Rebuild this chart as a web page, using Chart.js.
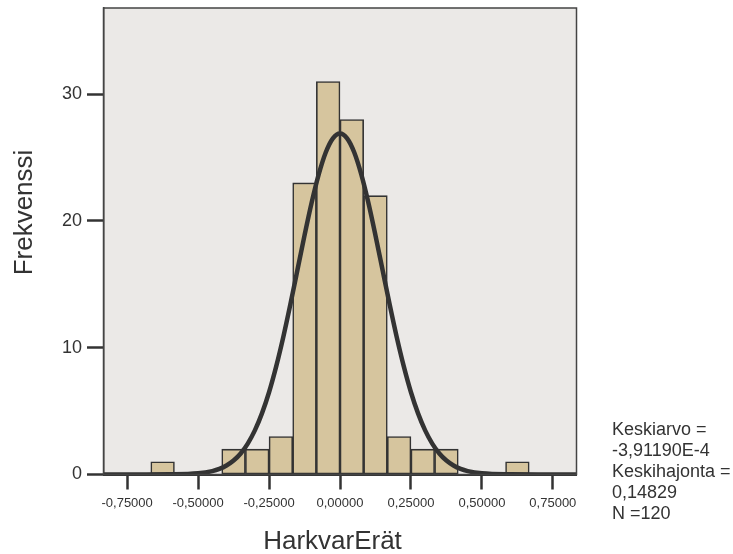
<!DOCTYPE html>
<html><head><meta charset="utf-8">
<script src="https://cdn.jsdelivr.net/npm/chart.js@4/dist/chart.umd.min.js"></script>
<style>html,body{margin:0;padding:0;background:#fff}#wrap{width:733px;height:554px;position:relative}</style>
</head><body><div id="wrap"><canvas id="c" width="733" height="554"></canvas></div>
<script>
const xTickValues = [-0.75, -0.5, -0.25, 0, 0.25, 0.5, 0.75];
const xTickLabels = ['-0,75000', '-0,50000', '-0,25000', '0,00000', '0,25000', '0,50000', '0,75000'];
const yTickValues = [0, 10, 20, 30];
const yTickLabels = ['0', '10', '20', '30'];
const binCenters = [-0.625, -0.375, -0.29167, -0.20833, -0.125, -0.041667, 0.041667, 0.125, 0.20833, 0.29167, 0.375, 0.625];
const binCounts = [1, 2, 2, 3, 23, 31, 28, 22, 3, 2, 2, 1];
const curveX = [-0.8333, -0.7, -0.6, -0.5, -0.45, -0.425, -0.4, -0.375, -0.35, -0.325, -0.3, -0.275, -0.25, -0.225, -0.2, -0.175, -0.15, -0.125, -0.1, -0.075, -0.05, -0.025, 0,
  0.025, 0.05, 0.075, 0.1, 0.125, 0.15, 0.175, 0.2, 0.225, 0.25, 0.275, 0.3, 0.325, 0.35, 0.375, 0.4, 0.425, 0.45, 0.5, 0.6, 0.7, 0.8333];
const curveY = [0, 0, 0.01, 0.09, 0.27, 0.44, 0.71, 1.10, 1.66, 2.44, 3.48, 4.82, 6.49, 8.51, 10.83, 13.41, 16.13, 18.86, 21.43, 23.67, 25.42, 26.52, 26.9,
  26.52, 25.42, 23.67, 21.43, 18.86, 16.13, 13.41, 10.83, 8.51, 6.49, 4.82, 3.48, 2.44, 1.66, 1.10, 0.71, 0.44, 0.27, 0.09, 0.01, 0, 0];
const statsLines = ['Keskiarvo =', '-3,91190E-4', 'Keskihajonta =', '0,14829', 'N =120'];
const xTitle = 'HarkvarErät';
const yTitle = 'Frekvenssi';

const FONT = "'Liberation Sans', Arial, Helvetica, sans-serif";
const TXT = '#333333';

const framePlugin = {
  id: 'frame',
  beforeDraw(chart) {
    const a = chart.chartArea, c = chart.ctx;
    c.save();
    c.fillStyle = '#EBE9E7';
    c.fillRect(a.left, a.top, a.right - a.left, a.bottom - a.top);
    c.restore();
  },
  afterDraw(chart) {
    const a = chart.chartArea, c = chart.ctx;
    c.save();
    c.strokeStyle = '#444';
    c.lineWidth = 1.5;
    c.strokeRect(a.left, a.top, a.right - a.left, a.bottom - a.top);
    c.fillStyle = TXT;
    c.font = '18px ' + FONT;
    c.textAlign = 'left';
    c.textBaseline = 'alphabetic';
    statsLines.forEach((t, i) => c.fillText(t, 612, 435 + i * 21));
    c.font = '26px ' + FONT;
    c.textAlign = 'center';
    c.fillText(xTitle, 332.5, 549);
    c.translate(32, 212.5);
    c.rotate(-Math.PI / 2);
    c.fillText(yTitle, 0, 0);
    c.restore();
  }
};

new Chart(document.getElementById('c').getContext('2d'), {
  type: 'bar',
  data: {
    datasets: [
      {
        type: 'line',
        data: curveX.map((x, i) => ({ x: x, y: curveY[i] })),
        borderColor: '#333333',
        borderWidth: 4.5,
        pointRadius: 0,
        cubicInterpolationMode: 'monotone',
        fill: false,
        order: 0
      },
      {
        type: 'bar',
        data: binCenters.map((x, i) => ({ x: x, y: binCounts[i] })),
        backgroundColor: '#D6C59E',
        borderColor: '#333333',
        borderWidth: 1.6,
        borderSkipped: false,
        barPercentage: 1,
        categoryPercentage: 1,
        order: 1
      }
    ]
  },
  options: {
    responsive: false,
    animation: false,
    devicePixelRatio: 1,
    layout: { padding: { top: 8, right: 156.5, left: 0, bottom: 0 } },
    plugins: { legend: { display: false }, tooltip: { enabled: false } },
    scales: {
      x: {
        type: 'linear', min: -0.8333, max: 0.8333, offset: false,
        afterBuildTicks: s => { s.ticks = xTickValues.map(v => ({ value: v })); },
        afterFit: s => { s.height = 79.5; s.paddingLeft = 0; s.paddingRight = 0; },
        ticks: { callback: (v, i) => xTickLabels[i], font: { family: FONT, size: 13 }, color: TXT, padding: 6, autoSkip: false, maxRotation: 0 },
        grid: { offset: false, drawOnChartArea: false, drawTicks: true, tickLength: 15, tickWidth: 2.5, tickColor: '#333' },
        border: { display: true, color: '#333', width: 2 }
      },
      y: {
        type: 'linear', min: 0, max: 36.8,
        afterBuildTicks: s => { s.ticks = yTickValues.map(v => ({ value: v })); },
        afterFit: s => { s.width = 103.5; s.paddingTop = 0; s.paddingBottom = 0; },
        ticks: { callback: (v, i) => yTickLabels[i], font: { family: FONT, size: 18 }, color: TXT, padding: 5 },
        grid: { offset: false, drawOnChartArea: false, drawTicks: true, tickLength: 16.5, tickWidth: 2.5, tickColor: '#333' },
        border: { display: true, color: '#444', width: 1.5 }
      }
    }
  },
  plugins: [framePlugin]
});
</script>
</body></html>
